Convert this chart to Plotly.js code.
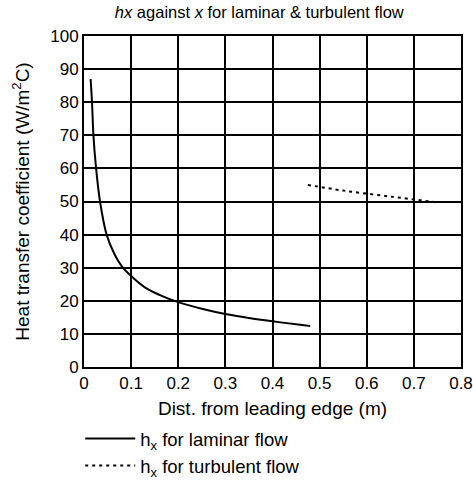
<!DOCTYPE html>
<html>
<head>
<meta charset="utf-8">
<script src="https://cdn.plot.ly/plotly-3.0.1.min.js"></script>
<style>html,body{margin:0;padding:0;background:#fff;}#chart{width:473px;height:480px;}</style>
</head>
<body>
<div id="chart"></div>
<script>
const laminarX = [0.014, 0.017, 0.02, 0.025, 0.034, 0.048, 0.065, 0.08, 0.1, 0.13, 0.16, 0.2, 0.25, 0.3, 0.35, 0.4, 0.45, 0.48];
const laminarY = [87, 80, 70, 61, 50, 40, 34, 30.5, 27.5, 24, 21.8, 19.6, 17.6, 16, 14.8, 13.8, 12.9, 12.4];
const turbulentX = [0.475, 0.55, 0.65, 0.745];
const turbulentY = [55, 53.3, 51.5, 49.8];
const xTicks = [0, 0.1, 0.2, 0.3, 0.4, 0.5, 0.6, 0.7, 0.8];
const xTickLabels = ['0', '0.1', '0.2', '0.3', '0.4', '0.5', '0.6', '0.7', '0.8'];
const yTicks = [0, 10, 20, 30, 40, 50, 60, 70, 80, 90, 100];

const font = 'Liberation Sans, Arial, sans-serif';
const traces = [
  {x: laminarX, y: laminarY, type: 'scatter', mode: 'lines', line: {color: '#000', width: 2, shape: 'spline'},
   name: 'h<sub>x</sub> for laminar flow', legendgroup: 'a'},
  {x: turbulentX, y: turbulentY, type: 'scatter', mode: 'lines', line: {color: '#000', width: 2, dash: '3px,4px', shape: 'spline'},
   name: 'h<sub>x</sub> for turbulent flow', legendgroup: 'b'}
];
const layout = {
  width: 473, height: 480,
  margin: {l: 84, r: 12, t: 36, b: 113},
  paper_bgcolor: '#fff', plot_bgcolor: '#fff',
  font: {family: font, color: '#000', size: 16},
  title: {text: '<i>hx</i> against <i>x</i> for laminar & turbulent flow', font: {size: 16.5, family: font},
          x: 0.465, xref: 'paper', xanchor: 'center', y: 0.975, yanchor: 'middle'},
  xaxis: {range: [0, 0.8], tickvals: xTicks, ticktext: xTickLabels, showgrid: true, gridcolor: '#000', gridwidth: 2,
          zeroline: false, showline: true, linecolor: '#000', linewidth: 2, mirror: true, ticks: '',
          tickfont: {size: 17}, automargin: false, ticklabeloverflow: 'allow',
          title: {text: 'Dist. from leading edge (m)', font: {size: 19}, standoff: 9}},
  yaxis: {range: [0, 100], tickvals: yTicks, showgrid: true, gridcolor: '#000', gridwidth: 2,
          zeroline: false, showline: true, linecolor: '#000', linewidth: 2, mirror: true, ticks: '',
          tickfont: {size: 17}, automargin: false,
          title: {text: 'Heat transfer coefficient (W/m<sup>2</sup>C)', font: {size: 19}, standoff: 16}},
  showlegend: true,
  legend: {x: -0.01, xanchor: 'left', xref: 'paper', y: 0.125, yanchor: 'top', yref: 'container', font: {size: 18.5},
           bgcolor: 'rgba(0,0,0,0)', traceorder: 'grouped', tracegroupgap: 0, itemwidth: 50}
};
Plotly.newPlot('chart', traces, layout, {displayModeBar: false, staticPlot: true});
</script>
</body>
</html>
